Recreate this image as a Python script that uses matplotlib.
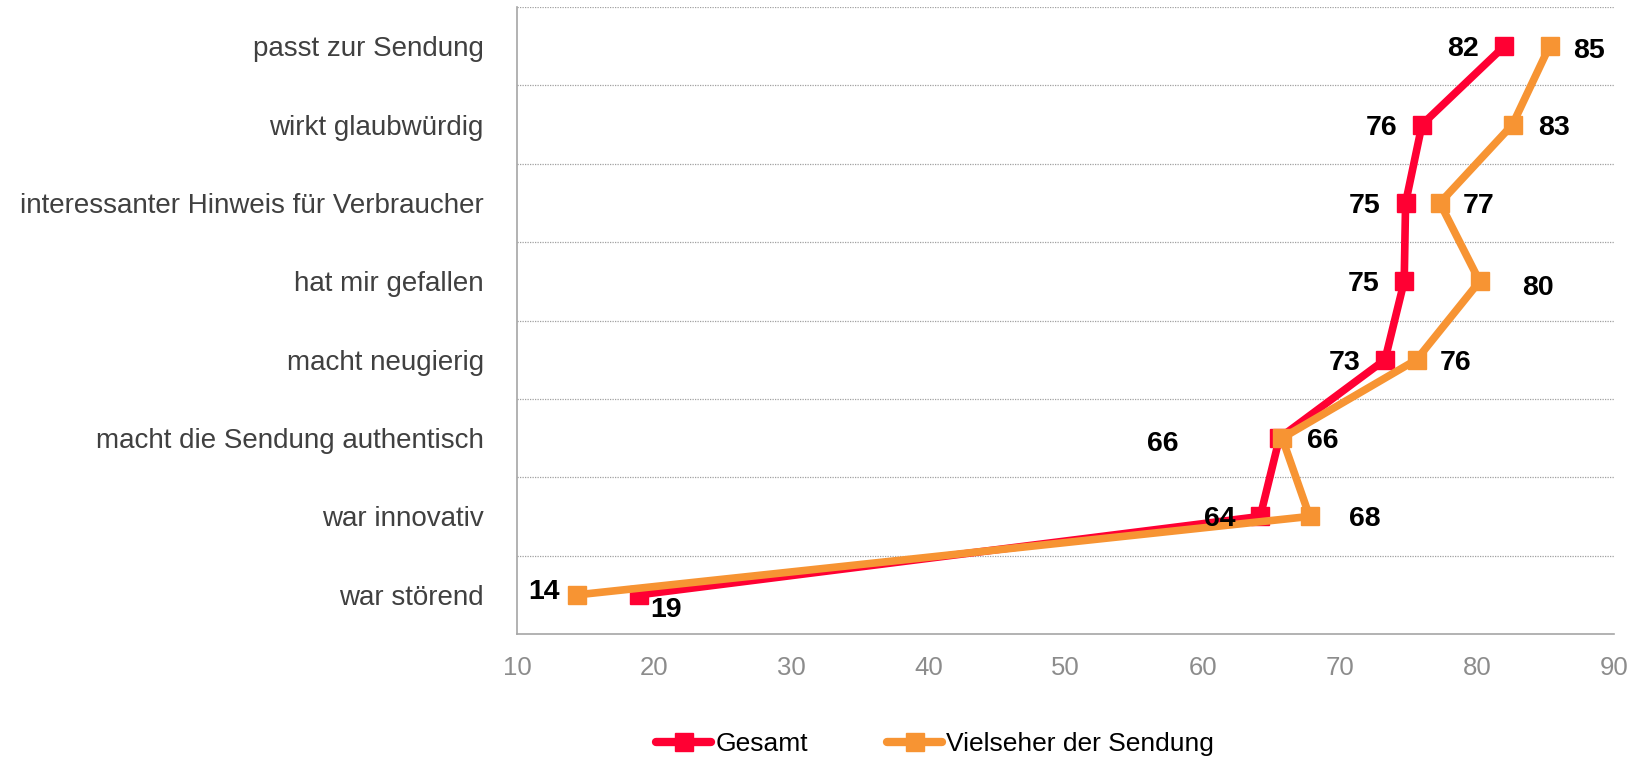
import matplotlib
matplotlib.use("Agg")
import matplotlib.pyplot as plt
from matplotlib.lines import Line2D

plt.rcParams['font.family'] = ['Liberation Sans', 'DejaVu Sans']

categories = ["passt zur Sendung", "wirkt glaubwürdig", "interessanter Hinweis für Verbraucher",
              "hat mir gefallen", "macht neugierig", "macht die Sendung authentisch",
              "war innovativ", "war störend"]
gesamt = [82.0, 76.0, 74.8, 74.7, 73.3, 65.6, 64.2, 18.9]
vielseher = [85.3, 82.6, 77.3, 80.2, 75.6, 65.8, 67.8, 14.4]
series_names = ["Gesamt", "Vielseher der Sendung"]
xticks = [10, 20, 30, 40, 50, 60, 70, 80, 90]

# label offsets in pixels (dx, dy)
off_g = [(-41, -3), (-40, -3), (-41, -3), (-41, -3), (-40, -3), (-117, -6), (-40, -3), (27, -15)]
off_v = [(39, -5), (41, -3), (39, -3), (58, -7), (39, -3), (41, -3), (55, -3), (-33, 3)]

RED = "#FF0033"
ORANGE = "#F79433"
LW = 5.5
MS = 12.5

fig = plt.figure(figsize=(16.44, 7.57), dpi=100)
ax = fig.add_axes([517/1644, 1 - 634/757, (1614-517)/1644, (634-7)/757])

y = list(range(len(categories)))
ax.plot(gesamt, y, color=RED, lw=LW, marker='s', ms=MS, zorder=3, solid_joinstyle='miter')
ax.plot(vielseher, y, color=ORANGE, lw=LW, marker='s', ms=MS, zorder=4, solid_joinstyle='miter')

for vals, offs in ((gesamt, off_g), (vielseher, off_v)):
    for yi, (v, (dx, dy)) in enumerate(zip(vals, offs)):
        ax.annotate(f"{v:.0f}", (v, yi), xytext=(dx, dy), textcoords='offset pixels',
                    ha='center', va='center', fontsize=20.5, fontweight='bold', color='black', zorder=5)

ax.set_xlim(10, 90)
ax.set_ylim(len(categories) - 0.5, -0.5)
ax.set_xticks(xticks)
ax.set_yticks(y)
ax.set_yticklabels(categories)
ax.tick_params(axis='x', length=0, labelsize=18.5, labelcolor='#8c8c8c', pad=16)
ax.tick_params(axis='y', length=0, labelsize=20, labelcolor='#404040', pad=24)

for b in [i - 0.5 for i in range(len(categories))]:
    ax.axhline(b, color='#a0a0a0', lw=0.9, ls=(0, (1, 1)), zorder=1)

for s in ['top', 'right']:
    ax.spines[s].set_visible(False)
ax.spines['left'].set_color('#a6a6a6')
ax.spines['bottom'].set_color('#a6a6a6')
ax.spines['left'].set_linewidth(1.2)
ax.spines['bottom'].set_linewidth(1.2)

handles = [Line2D([], [], color=RED, lw=6, marker='s', ms=MS, solid_capstyle='round'),
           Line2D([], [], color=ORANGE, lw=6, marker='s', ms=MS, solid_capstyle='round')]
fig.legend(handles, series_names, loc='center', bbox_to_anchor=(935/1644, 1 - 744/757),
           ncol=2, frameon=False, fontsize=19, handlelength=2.1, handletextpad=0.15,
           columnspacing=3.0)

fig.savefig("out.png", dpi=100)
